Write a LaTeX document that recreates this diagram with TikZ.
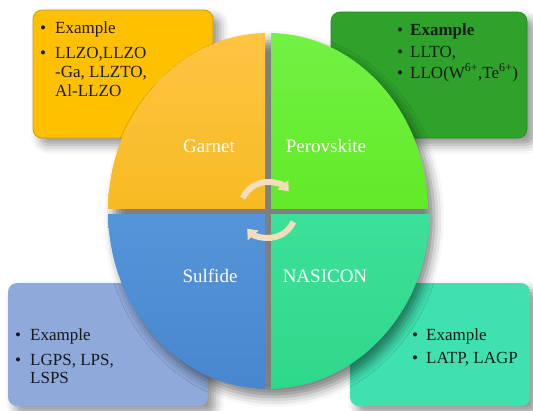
\documentclass[tikz,border=0pt]{standalone}
\usepackage{fontspec}
\setmainfont{Liberation Serif}
\usetikzlibrary{shadows.blur,arrows.meta}
\definecolor{gboxc}{HTML}{FFC000}
\definecolor{gboxd}{HTML}{C99A1E}
\definecolor{pboxc}{HTML}{2EA22A}
\definecolor{pboxd}{HTML}{23891F}
\definecolor{sboxc}{HTML}{8FA9DA}
\definecolor{nboxc}{HTML}{3FE2AF}
\definecolor{gtop}{HTML}{FFC443}
\definecolor{gbot}{HTML}{EDB200}
\definecolor{ptop}{HTML}{72F244}
\definecolor{pbot}{HTML}{52E00A}
\definecolor{stop}{HTML}{62A2E2}
\definecolor{sbot}{HTML}{4887CF}
\definecolor{ntop}{HTML}{4BE9A9}
\definecolor{nbot}{HTML}{2ED88A}
\definecolor{arrc}{HTML}{F4DDBA}
\tikzset{
  box/.style={rounded corners=9pt, inner sep=0pt,
    blur shadow={shadow xshift=7pt, shadow yshift=-7pt, shadow blur radius=9pt, shadow opacity=42}},
  txt/.style={anchor=base west, inner sep=0pt, font=\fontsize{17}{19}\selectfont, text=black!90},
  lbl/.style={inner sep=0pt, font=\fontsize{19}{22}\selectfont, text=white},
  cyc/.style={line width=6pt, draw=arrc, -{Triangle[width=14pt,length=9pt]}}
}
\begin{document}
\begin{tikzpicture}[x=1pt,y=-1pt]
\useasboundingbox (0,0) rectangle (533,410);
% example boxes
\node[box, fill=gboxc, draw=gboxd, line width=0.8pt, minimum width=180pt, minimum height=128pt] (gbox) at (123,74) {};
\node[box, fill=pboxc, draw=pboxd, line width=0.6pt, minimum width=196pt, minimum height=126pt] (pbox) at (429,75) {};
\node[box, fill=sboxc, minimum width=200pt, minimum height=123pt] (sbox) at (108,344.5) {};
\node[box, fill=nboxc, minimum width=180pt, minimum height=123pt] (nbox) at (440,344.5) {};
% circle shadow
\path[blur shadow={shadow xshift=6pt, shadow yshift=-8pt, shadow blur radius=10pt, shadow opacity=50}] (268,211) ellipse [x radius=160, y radius=178];
% quadrants
\begin{scope}
  \clip (0,0) rectangle (265,208);
  \shade[top color=gtop, bottom color=gbot] (268,211) ellipse [x radius=160, y radius=178];
\end{scope}
\begin{scope}
  \clip (271,0) rectangle (533,208);
  \shade[top color=ptop, bottom color=pbot] (268,211) ellipse [x radius=160, y radius=178];
\end{scope}
\begin{scope}
  \clip (0,214) rectangle (265,410);
  \shade[top color=stop, bottom color=sbot] (268,211) ellipse [x radius=160, y radius=178];
\end{scope}
\begin{scope}
  \clip (271,214) rectangle (533,410);
  \shade[top color=ntop, bottom color=nbot] (268,211) ellipse [x radius=162, y radius=178];
\end{scope}
% labels
\node[lbl] (garnet) at (209,146) {Garnet};
\node[lbl] (perov) at (326,146) {Perovskite};
\node[lbl] (sulf) at (210,276) {Sulfide};
\node[lbl] (nasi) at (325,276) {NASICON};
% cycle arrows
\coordinate (cc) at (268,210);
\draw[cyc] ([shift={(205:28)}]cc) arc[start angle=205, end angle=318, radius=28];
\draw[cyc] ([shift={(25:28)}]cc) arc[start angle=25, end angle=138, radius=28];
% Garnet text
\node[txt] (g1b) at (40,33) {•};
\node[txt] (g1) at (55,33) {Example};
\node[txt] (g2b) at (40,58) {•};
\node[txt] (g2) at (55,58) {LLZO,LLZO};
\node[txt] (g3) at (55,77) {-Ga, LLZTO,};
\node[txt] (g4) at (55,96) {Al-LLZO};
% Perovskite text
\node[txt] (p1b) at (397,35) {•};
\node[txt] (p1) at (410,35) {\bfseries Example};
\node[txt] (p2b) at (397,57) {•};
\node[txt] (p2) at (410,57) {LLTO,};
\node[txt] (p3b) at (397,78) {•};
\node[txt] (p3) at (410,78) {LLO(W\textsuperscript{6+},Te\textsuperscript{6+})};
% Sulfide text
\node[txt] (s1b) at (15,340) {•};
\node[txt] (s1) at (30,340) {Example};
\node[txt] (s2b) at (15,365) {•};
\node[txt] (s2) at (30,365) {LGPS, LPS,};
\node[txt] (s3) at (30,383) {LSPS};
% NASICON text
\node[txt] (n1b) at (412,340) {•};
\node[txt] (n1) at (426,340) {Example};
\node[txt] (n2b) at (412,363) {•};
\node[txt] (n2) at (426,363) {LATP, LAGP};
\end{tikzpicture}
\end{document}
